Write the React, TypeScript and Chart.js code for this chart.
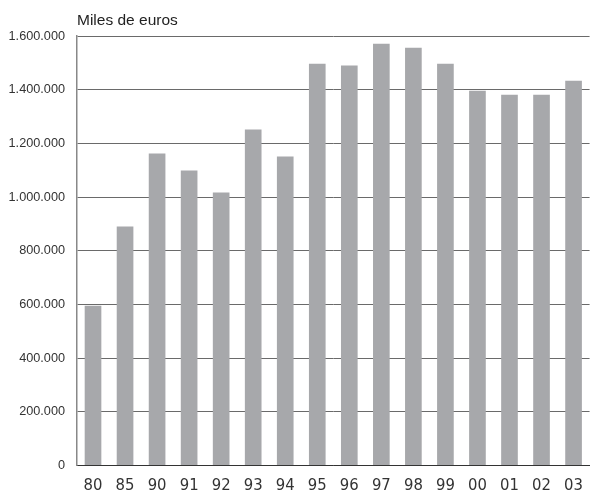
import React, { useEffect, useRef } from "react";
import { Chart, registerables } from "chart.js";

Chart.register(...registerables);

const categories = ["80", "85", "90", "91", "92", "93", "94", "95", "96", "97", "98", "99", "00", "01", "02", "03"];
const values = [595000, 890000, 1162000, 1099000, 1017000, 1252000, 1151000, 1497000, 1490000, 1571000, 1556000, 1497000, 1396000, 1381000, 1381000, 1433000];
const yMax = 1600000;
const yStep = 200000;
const unitLabel = "Miles de euros";

const fmt = (v: number) => String(Math.round(v)).replace(/\B(?=(\d{3})+(?!\d))/g, ".");

export default function App() {
  const ref = useRef<HTMLCanvasElement | null>(null);

  useEffect(() => {
    document.body.style.margin = "0";
    const canvas = ref.current;
    if (!canvas) return;
    const titlePlugin = {
      id: "unitTitle",
      afterDraw(chart: any) {
        const { ctx, chartArea } = chart;
        ctx.save();
        ctx.font = "15.5px 'Liberation Sans', Arial, sans-serif";
        ctx.fillStyle = "#222";
        ctx.textAlign = "left";
        ctx.textBaseline = "alphabetic";
        ctx.fillText(unitLabel, chartArea.left, 24.5);
        ctx.restore();
      },
    };
    const chart = new Chart(canvas, {
      type: "bar",
      data: {
        labels: categories,
        datasets: [
          {
            data: values,
            backgroundColor: "#a7a8ab",
            borderWidth: 0,
            barPercentage: 0.52,
            categoryPercentage: 1,
          },
        ],
      },
      options: {
        responsive: false,
        animation: false,
        devicePixelRatio: 1,
        layout: { padding: { top: 36, right: 0, bottom: 0, left: 0 } },
        plugins: {
          legend: { display: false },
          tooltip: { enabled: false },
          title: { display: false },
        },
        scales: {
          x: {
            afterFit(scale: any) {
              scale.height = 28.5;
            },
            grid: { display: false, drawTicks: false },
            border: { display: true, color: "#333", width: 1 },
            ticks: {
              padding: 10,
              color: "#333",
              font: { family: "'Liberation Sans Narrow', 'Arial Narrow', 'DejaVu Sans Condensed', sans-serif", size: 16.5 },
            },
          },
          y: {
            min: 0,
            max: yMax,
            afterFit(scale: any) {
              scale.width = 77;
            },
            grid: { color: "#6a6a6a", lineWidth: 1, drawTicks: false },
            border: { display: true, color: "#888", width: 1.5 },
            ticks: {
              stepSize: yStep,
              padding: 12,
              color: "#333",
              font: { family: "'Liberation Sans', Arial, sans-serif", size: 12.7 },
              callback: (v: any) => fmt(Number(v)),
            },
          },
        },
      },
      plugins: [titlePlugin],
    });
    return () => chart.destroy();
  }, []);

  return (
    <div style={{ position: "fixed", left: 0, top: 0, width: 590, height: 494, overflow: "hidden", background: "#fff" }}>
      <canvas ref={ref} width={593} height={494} style={{ display: "block", width: 593, height: 494 }} />
    </div>
  );
}
